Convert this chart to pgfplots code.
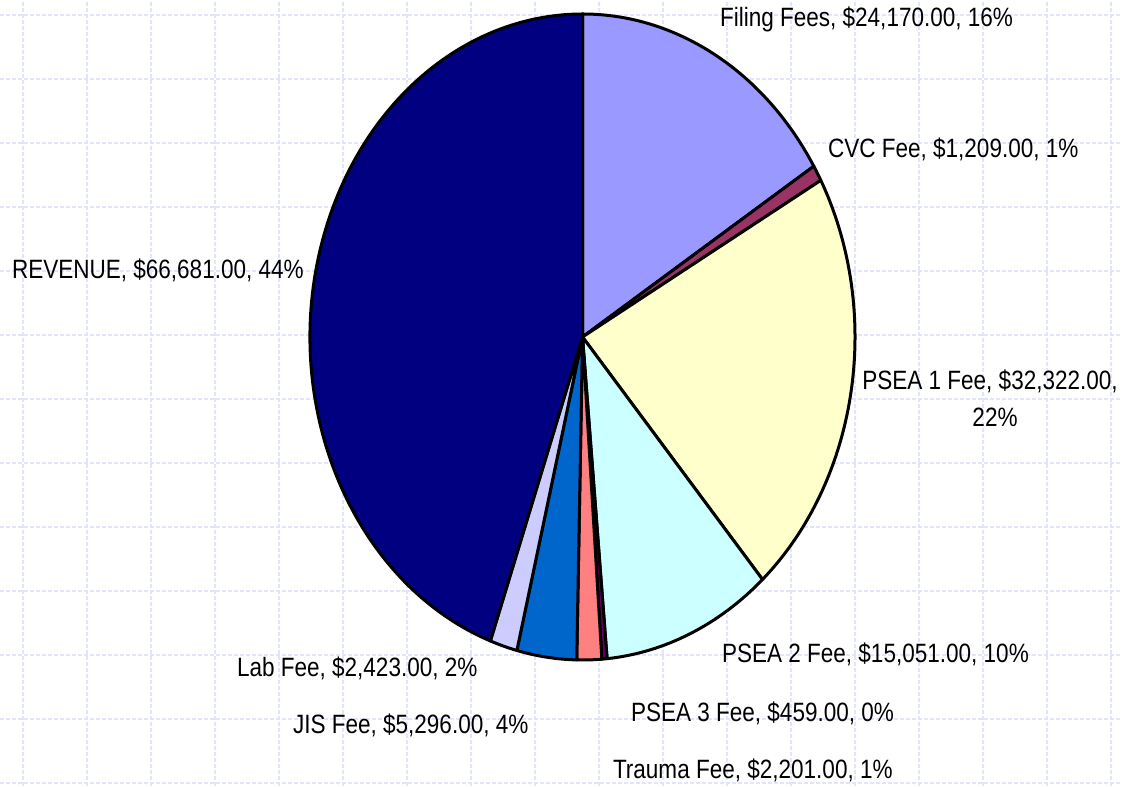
\documentclass[border=0pt]{standalone}
\usepackage{pgfplots}
\pgfplotsset{compat=1.18}
\usepackage{pgfplotstable}
\usepackage{fontspec}
\setmainfont{Liberation Sans}[FakeStretch=0.85]

\definecolor{c0}{HTML}{9999FF}
\definecolor{c1}{HTML}{993366}
\definecolor{c2}{HTML}{FFFFCC}
\definecolor{c3}{HTML}{CCFFFF}
\definecolor{c4}{HTML}{660066}
\definecolor{c5}{HTML}{FF8080}
\definecolor{c6}{HTML}{0066CC}
\definecolor{c7}{HTML}{CCCCFF}
\definecolor{c8}{HTML}{000080}
\definecolor{gridc}{HTML}{E0E5FB}

\tikzset{lbl/.style={font=\fontsize{13.25}{15}\selectfont, inner sep=0pt, outer sep=0pt}}

% slices, clockwise from 12 o'clock
\pgfplotstableread[col sep=comma]{
label,value
Filing Fees,24170
CVC Fee,1209
PSEA 1 Fee,32322
PSEA 2 Fee,15051
PSEA 3 Fee,459
Trauma Fee,2201
JIS Fee,5296
Lab Fee,2423
REVENUE,66681
}\piedata

\begin{document}
\begin{tikzpicture}
% total (\fpeval: values are too big for pgfmath)
\gdef\tot{0}
\pgfplotstableforeachcolumnelement{value}\of\piedata\as\v{%
  \xdef\tot{\fpeval{\tot+\v}}}
\begin{axis}[
    name=ax,
    scale only axis,
    x=0.5pt, y=0.5pt,
    xmin=0, xmax=1122, ymin=0, ymax=786,
    axis line style={draw=none},
    major tick length=0pt,
    xtick={23,87,...,1111},
    ytick={3,67,...,771},
    xticklabels={}, yticklabels={},
    tick label style={inner sep=0pt, outer sep=0pt},
    grid=major,
    major grid style={draw=gridc, dash pattern=on 2pt off 1pt, line width=0.6pt},
    clip=false,
]
\gdef\angA{90}
\pgfplotsforeachungrouped \i in {0,...,8}{%
  \pgfplotstablegetelem{\i}{value}\of\piedata
  \edef\angB{\fpeval{round(\angA-360*\pgfplotsretval/\tot,4)}}%
  \edef\slice{\noexpand\filldraw[fill=c\i, draw=black, line width=1.5pt, line join=round]
    (axis cs:582.5,449) -- +(\angA:136.25pt and 161.5pt)
    arc[start angle=\angA, end angle=\angB, x radius=136.25pt, y radius=161.5pt] -- cycle;}%
  \slice
  \global\let\angA\angB
}
\node[lbl, anchor=base west] at (axis cs:720,759) {Filing Fees, \$24,170.00, 16\%};
\node[lbl, anchor=base west] at (axis cs:828,628) {CVC Fee, \$1,209.00, 1\%};
\node[lbl, anchor=base] at (axis cs:990,396) {PSEA 1 Fee, \$32,322.00,};
\node[lbl, anchor=base] at (axis cs:995,359) {22\%};
\node[lbl, anchor=base west] at (axis cs:722,123) {PSEA 2 Fee, \$15,051.00, 10\%};
\node[lbl, anchor=base west] at (axis cs:631,64) {PSEA 3 Fee, \$459.00, 0\%};
\node[lbl, anchor=base west] at (axis cs:613,8) {Trauma Fee, \$2,201.00, 1\%};
\node[lbl, anchor=base west] at (axis cs:237,109) {Lab Fee, \$2,423.00, 2\%};
\node[lbl, anchor=base west] at (axis cs:293,52) {JIS Fee, \$5,296.00, 4\%};
\node[lbl, anchor=base west] at (axis cs:12,507) {REVENUE, \$66,681.00, 44\%};
\end{axis}
\pgfresetboundingbox
\path[use as bounding box] (ax.south west) rectangle (ax.north east);
\end{tikzpicture}
\end{document}
